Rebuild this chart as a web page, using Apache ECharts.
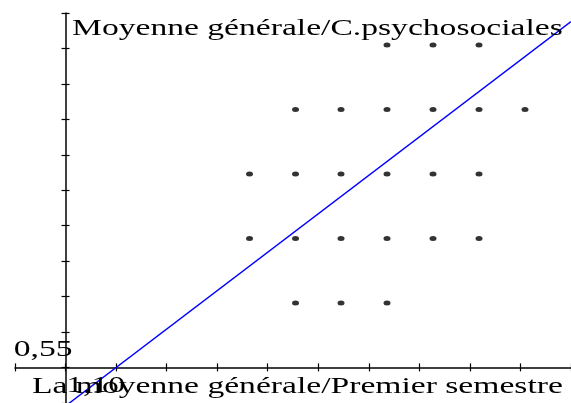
<!DOCTYPE html>
<html lang="fr">
<head>
<meta charset="UTF-8" />
<title>Moyenne générale / C.psychosociales</title>
<script src="https://cdn.jsdelivr.net/npm/echarts@6/dist/echarts.min.js"></script>
</head>
<body style="margin:0">
<div id="main" style="width:571px;height:403px"></div>
<script>
// points (premier semestre, C.psychosociales)
const pointX = [1.636, 1.727, 1.818,
  1.455, 1.545, 1.636, 1.727, 1.818, 1.909,
  1.364, 1.455, 1.545, 1.636, 1.727, 1.818,
  1.364, 1.455, 1.545, 1.636, 1.727, 1.818,
  1.455, 1.545, 1.636];
const pointY = [0.955, 0.955, 0.955,
  0.864, 0.864, 0.864, 0.864, 0.864, 0.864,
  0.773, 0.773, 0.773, 0.773, 0.773, 0.773,
  0.682, 0.682, 0.682, 0.682, 0.682, 0.682,
  0.591, 0.591, 0.591];
// droite de régression (extrémités)
const lineX = [1.0, 2.0];
const lineY = [0.4458, 0.988];
// axes
const xRange = [0.9, 2.0];
const yRange = [0.45, 1.0];
const axisCross = [1.0, 0.5];
const xTicks = [1.1];
const xTickLabels = ['1,10'];
const yTicks = [0.55];
const yTickLabels = ['0,55'];
const titleText = 'Moyenne générale/C.psychosociales';
const xName = 'La moyenne générale/Premier semestre';

const font = 'Liberation Serif';
const stretch = 1.4;
const gridRect = {left: 15, top: 13, width: 556, height: 391.6};

const xOff = -(axisCross[1] - yRange[0]) / (yRange[1] - yRange[0]) * gridRect.height;
const yOff = -(axisCross[0] - xRange[0]) / (xRange[1] - xRange[0]) * gridRect.width;

// grid 0 draws the axis lines + outer ticks, grid 1 (same rect) the inner ticks
function xAx(g) {
  return {
    gridIndex: g, type: 'value', min: xRange[0], max: xRange[1], interval: 0.1,
    position: 'bottom', offset: xOff,
    axisLine: {show: g === 0, onZero: false, lineStyle: {color: '#000', width: 1.5}},
    axisTick: {show: true, inside: g === 1, length: 4, lineStyle: {color: '#000', width: 1.2}},
    axisLabel: {show: false}, splitLine: {show: false}
  };
}
function yAx(g) {
  return {
    gridIndex: g, type: 'value', min: yRange[0], max: yRange[1], interval: 0.05,
    position: 'left', offset: yOff,
    axisLine: {show: g === 0, onZero: false, lineStyle: {color: '#000', width: 1.5}},
    axisTick: {show: true, inside: g === 1, length: 4, lineStyle: {color: '#000', width: 1.2}},
    axisLabel: {show: false}, splitLine: {show: false}
  };
}

var myChart = echarts.init(document.getElementById('main'));

myChart.setOption({
  animation: false,
  grid: [gridRect, gridRect],
  xAxis: [xAx(0), xAx(1)],
  yAxis: [yAx(0), yAx(1)],
  series: [
    {
      type: 'scatter', xAxisIndex: 0, yAxisIndex: 0,
      symbol: 'circle', symbolSize: [7, 5],
      itemStyle: {color: '#000'},
      data: pointX.map((x, i) => [x, pointY[i]])
    },
    {
      type: 'line', xAxisIndex: 0, yAxisIndex: 0,
      symbol: 'none', clip: true,
      lineStyle: {color: '#0000ff', width: 1.4},
      data: lineX.map((x, i) => [x, lineY[i]])
    },
    {
      // keeps the second grid alive
      type: 'scatter', xAxisIndex: 1, yAxisIndex: 1, silent: true,
      symbolSize: 0, data: [[lineX[0], lineY[1]]]
    }
  ]
});

function txt(text, x, y, align) {
  return {
    type: 'text', x: x, y: y, scaleX: stretch, z: 100,
    style: {text: text, fontSize: 24, fontFamily: font, fill: '#000', textAlign: align, textVerticalAlign: 'middle'}
  };
}

const labels = [];
xTicks.forEach((v, i) => {
  const p = myChart.convertToPixel({gridIndex: 0}, [v, axisCross[1]]);
  labels.push(txt(xTickLabels[i], p[0] + 9, p[1] + 18, 'right'));
});
yTicks.forEach((v, i) => {
  const p = myChart.convertToPixel({gridIndex: 0}, [axisCross[0], v]);
  labels.push(txt(yTickLabels[i], p[0] + 7, p[1] + 18, 'right'));
});
labels.push(txt(titleText, 72, 29, 'left'));
labels.push(txt(xName, 32, 387, 'left'));

myChart.setOption({graphic: labels});
</script>
</body>
</html>
